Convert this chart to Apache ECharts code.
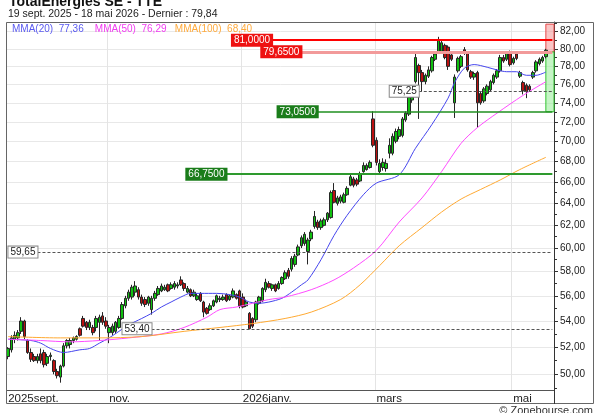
<!DOCTYPE html>
<html lang="fr">
<head>
<meta charset="utf-8">
<title>TotalEnergies SE - TTE</title>
<script src="https://cdn.jsdelivr.net/npm/echarts@6/dist/echarts.min.js"></script>
<style>
  html, body { margin: 0; padding: 0; background: #fff; }
  #grafico { width: 600px; height: 413px; }
</style>
</head>
<body>
<div id="grafico"></div>
<script>
// Cours journaliers (sept. 2025 -> mai 2026)
const ouverture = [
  51.3, 51.8, 52.6, 52.7, 53.2, 54.0, 52.5, 51.6,
  51.3, 51.0, 51.5, 51.6, 50.8, 51.3, 51.0, 50.2, 49.8, 50.6, 52.1, 52.2, 52.5, 52.6, 53.4, 54.2, 53.9, 53.5, 53.5, 53.5, 53.9, 54.4, 54.0,
  53.1, 53.1, 53.2, 53.5, 54.2, 55.2, 55.8, 55.9, 56.3, 56.5, 55.9, 55.7, 55.4, 54.9, 55.8, 56.1, 56.4, 56.5, 56.9, 56.6,
  56.7, 56.8, 57.3, 57.0, 56.3, 56.5, 56.0, 55.7, 56.2, 55.5, 55.0, 54.9, 55.2, 55.5, 55.7, 55.7, 56.1, 55.7, 55.9, 56.1, 56.4,
  55.9, 55.2, 54.6, 54.2, 54.1, 55.4, 55.6, 56.5, 57.0, 56.6, 56.9, 56.6, 57.0, 57.4, 58.1, 58.2, 58.6, 59.4, 60.2, 60.4, 59.7,
  60.8, 61.9, 62.3, 61.8, 62.0, 62.5, 62.7, 65.2, 64.0, 64.2, 64.1, 64.8, 65.7, 66.3, 66.2, 66.1, 67.0, 67.2, 67.4, 72.3,
  70.1, 67.0, 67.4, 67.3, 68.8, 68.8, 70.0, 70.5, 70.6, 72.2, 72.8, 74.3, 76.3, 78.1, 77.3, 76.3, 76.9, 77.5, 78.8, 79.6, 79.7, 80.4,
  80.2, 79.3, 74.0, 77.5, 78.0, 79.9, 79.5, 77.4, 76.8, 77.3, 75.0, 74.2, 75.0, 75.4, 76.2, 76.8, 77.5, 79.0, 78.8, 79.6,
  78.4, 79.4, 76.9, 76.2, 75.9, 75.8, 76.8, 77.5, 78.3, 78.6, 79.1
];
const plusHaut = [
  52.0, 52.9, 53.2, 53.3, 54.3, 54.1, 52.6, 51.9,
  51.5, 51.5, 51.9, 51.8, 51.5, 51.6, 51.1, 50.4, 50.7, 52.3, 52.6, 52.7, 52.8, 52.9, 53.5, 54.4, 54.0, 54.1, 53.7, 54.4, 54.5, 54.7, 54.3,
  53.7, 53.8, 54.0, 54.4, 55.5, 56.0, 56.5, 56.9, 57.2, 56.7, 56.1, 55.9, 56.0, 56.0, 56.4, 56.8, 57.0, 56.9, 57.0, 57.1,
  57.2, 57.1, 57.6, 57.1, 56.8, 56.6, 56.5, 56.2, 56.3, 55.6, 55.1, 55.4, 55.7, 56.1, 56.0, 56.1, 56.2, 56.1, 56.6, 56.2, 56.5,
  56.2, 55.7, 54.7, 54.3, 55.6, 56.0, 56.7, 57.4, 57.2, 57.0, 57.0, 57.2, 57.6, 58.1, 58.3, 59.3, 59.5, 60.3, 61.1, 61.4, 60.9,
  61.6, 63.3, 62.5, 62.6, 62.7, 63.2, 65.2, 65.9, 64.7, 64.8, 65.0, 65.6, 66.8, 66.5, 66.4, 67.0, 67.9, 67.8, 68.1, 73.1,
  70.4, 68.2, 68.3, 68.2, 70.3, 70.8, 71.3, 71.5, 72.5, 73.1, 74.8, 75.2, 79.6, 78.3, 77.6, 77.2, 78.0, 79.2, 79.6, 81.4, 81.0, 80.6,
  80.4, 79.6, 77.1, 79.1, 79.3, 80.2, 79.7, 77.6, 77.4, 77.5, 75.2, 75.7, 76.0, 76.5, 77.2, 77.7, 79.3, 79.3, 79.7, 79.8,
  79.1, 79.6, 77.5, 76.4, 76.1, 76.0, 77.5, 78.7, 79.0, 79.2, 80.0
];
const plusBas = [
  51.1, 51.6, 52.3, 52.5, 53.0, 52.6, 51.5, 50.9,
  50.9, 50.8, 50.8, 50.5, 50.6, 51.0, 50.0, 49.7, 49.4, 50.5, 51.9, 51.9, 52.3, 52.5, 52.8, 53.5, 53.3, 53.3, 52.9, 53.2, 52.5, 53.7, 53.4,
  52.3, 52.9, 53.0, 53.4, 54.1, 55.0, 55.6, 55.7, 56.0, 55.7, 55.2, 55.1, 55.2, 54.5, 55.6, 56.0, 56.3, 56.4, 56.3, 56.5,
  56.5, 56.6, 56.8, 56.4, 56.2, 55.9, 55.9, 55.6, 55.5, 54.3, 54.5, 54.8, 55.1, 55.4, 55.5, 55.6, 55.5, 55.6, 55.8, 55.7, 55.0,
  55.0, 55.1, 53.4, 53.45, 53.9, 55.3, 55.5, 56.3, 56.6, 56.4, 56.3, 56.5, 56.9, 57.3, 57.4, 58.0, 58.4, 59.3, 60.0, 60.2, 58.6,
  60.6, 61.7, 61.6, 61.6, 61.9, 62.3, 62.6, 64.0, 63.8, 64.0, 64.0, 64.7, 65.6, 65.5, 65.6, 66.0, 66.9, 67.1, 67.3, 69.4,
  67.6, 66.8, 67.1, 67.0, 68.3, 68.6, 69.8, 70.2, 70.4, 72.0, 72.6, 74.0, 76.1, 72.3, 75.2, 76.0, 76.7, 77.3, 78.6, 79.4, 79.5, 78.8,
  77.6, 78.6, 72.4, 77.3, 77.8, 79.3, 77.4, 76.6, 76.5, 71.4, 73.8, 74.0, 74.8, 75.2, 76.0, 76.6, 77.3, 78.4, 78.6, 78.0,
  78.2, 78.7, 76.7, 74.9, 74.5, 75.2, 76.6, 77.3, 78.1, 78.4, 78.9
];
const cloture = [
  51.9, 52.7, 52.9, 53.1, 54.0, 52.8, 51.6, 51.1,
  51.0, 51.3, 51.0, 50.7, 51.3, 51.4, 50.2, 49.9, 50.6, 52.1, 52.5, 52.5, 52.7, 52.8, 52.9, 53.6, 53.5, 53.9, 53.1, 54.2, 54.3, 53.9, 53.6,
  53.5, 53.6, 53.9, 54.2, 55.3, 55.8, 56.3, 56.7, 56.8, 55.9, 55.4, 55.3, 55.9, 55.8, 56.2, 56.6, 56.8, 56.7, 56.4, 56.9,
  57.0, 56.9, 56.9, 56.6, 56.6, 56.0, 56.3, 56.0, 55.6, 54.7, 54.6, 55.2, 55.6, 56.0, 55.8, 55.9, 55.6, 56.0, 56.4, 55.8, 55.2,
  55.1, 55.5, 53.4, 53.6, 55.5, 55.9, 56.6, 57.1, 56.7, 56.9, 56.4, 57.0, 57.5, 57.9, 57.6, 59.1, 59.3, 60.1, 60.9, 61.2, 60.7,
  61.4, 62.8, 61.8, 62.4, 62.5, 63.1, 65.0, 64.1, 64.5, 64.6, 64.8, 65.4, 66.5, 65.7, 65.8, 66.8, 67.6, 67.6, 67.9, 69.6,
  67.9, 67.8, 67.9, 67.8, 69.6, 70.5, 71.0, 71.2, 72.3, 72.9, 74.6, 74.6, 79.0, 77.3, 76.3, 77.0, 77.6, 79.0, 79.4, 81.0, 80.7, 79.0,
  78.0, 78.8, 76.8, 78.9, 79.1, 79.5, 77.6, 76.8, 77.2, 74.0, 74.0, 75.5, 75.8, 76.3, 77.0, 77.5, 79.0, 78.6, 79.5, 78.2,
  78.9, 78.9, 77.3, 75.3, 75.2, 75.4, 77.3, 78.5, 78.8, 79.0, 79.84
];

// moyennes mobiles (jour de bourse -> valeur)
const mma20Jours = [0, 7, 10, 13, 17, 22, 25, 28, 31, 34, 37, 41, 44, 47, 50, 53, 56, 59, 64, 68, 71, 74, 77, 80, 84, 87, 90, 92, 96, 100, 104, 109, 113, 120, 125, 130, 135, 137, 140, 143, 147, 150, 153, 156, 159, 162, 165];
const mma20Valeurs = [52.6, 52.5, 52.3, 51.9, 51.6, 51.8, 51.9, 52.3, 52.7, 53.2, 53.7, 54.2, 54.6, 55.1, 55.5, 55.9, 56.2, 56.2, 56.2, 56.1, 55.9, 55.5, 55.4, 55.5, 55.8, 56.3, 56.9, 57.3, 59.0, 61.1, 62.9, 64.8, 65.9, 66.7, 69.3, 71.7, 74.5, 76.2, 77.8, 78.2, 77.9, 77.6, 77.4, 77.4, 77.0, 77.0, 77.36];
const mma50Jours = [0, 10, 19, 28, 37, 47, 54, 61, 65, 70, 75, 80, 85, 93, 100, 106, 113, 120, 127, 133, 139, 144, 150, 158, 165];
const mma50Valeurs = [52.6, 52.5, 52.4, 52.5, 52.7, 53.0, 53.5, 54.3, 54.9, 55.1, 55.4, 55.7, 55.9, 56.5, 57.3, 58.3, 59.8, 62.3, 64.5, 67.0, 69.8, 71.4, 72.9, 74.8, 76.29];
const mma100Jours = [0, 16, 28, 41, 54, 65, 75, 85, 93, 102, 108, 114, 120, 127, 133, 139, 145, 151, 157, 165];
const mma100Valeurs = [52.8, 52.7, 52.7, 52.8, 53.2, 53.5, 53.8, 54.2, 54.7, 55.7, 56.9, 58.5, 60.2, 61.8, 63.2, 64.4, 65.3, 66.2, 67.2, 68.40];

// niveaux traces sur le graphique
const niveaux = [81, 79.65, 75.25, 73.05, 66.75, 59.65, 53.40];
const niveauxTexte = ['81,0000', '79,6500', '75,25', '73,0500', '66,7500', '59,65', '53,40'];
const zoneRouge = [79.65, 82.9];
const zoneVerte = [73.05, 79.65];

const graduations = [50, 52, 54, 56, 58, 60, 62, 64, 66, 68, 70, 72, 74, 76, 78, 80, 82];
const graduationsMineures = [49, 51, 53, 55, 57, 59, 61, 63, 65, 67, 69, 71, 73, 75, 77, 79, 81, 83];

const feries = ['2025-12-25', '2025-12-26', '2026-01-01', '2026-04-03', '2026-04-06', '2026-05-01'];
const moisLabels = {
    '2025-09-19': '2025sept.',
    '2025-11-03': 'nov.',
    '2026-01-02': '2026janv.',
    '2026-03-02': 'mars',
    '2026-05-04': 'mai'
};

// apparence des niveaux (debut = jour ou le trait commence, apres l'etiquette)
const apparenceNiveaux = [
    { debut: 81, trait: '#ff0000', largeur: 2, type: 'solid', fond: '#ee1111', bord: '#ee1111', texte: '#fff' },
    { debut: 90, trait: '#f29a9a', largeur: 3, type: 'solid', fond: '#ee1111', bord: '#ee1111', texte: '#fff' },
    { debut: 126, trait: '#555', largeur: 1, type: [3, 2], fond: '#fff', bord: '#888', texte: '#222' },
    { debut: 95, trait: '#1f8f1f', largeur: 1.5, type: 'solid', fond: '#1b7d1b', bord: '#1b7d1b', texte: '#fff' },
    { debut: 67, trait: '#2e9a2e', largeur: 2, type: 'solid', fond: '#1b7d1b', bord: '#1b7d1b', texte: '#fff' },
    { debut: 9, trait: '#555', largeur: 1, type: [3, 2], fond: '#fff', bord: '#888', texte: '#222' },
    { debut: 44, trait: '#555', largeur: 1, type: [3, 2], fond: '#fff', bord: '#888', texte: '#222' }
];

const police = "'Liberation Sans', Arial, sans-serif";
const virgule = (v, d) => v.toFixed(d).replace('.', ',');

function joursDeBourse(debut, fin) {
    const jours = [];
    const d = new Date(debut + 'T12:00:00Z');
    const f = new Date(fin + 'T12:00:00Z');
    while (d <= f) {
        const iso = d.toISOString().slice(0, 10);
        const j = d.getUTCDay();
        if (j !== 0 && j !== 6 && !feries.includes(iso)) jours.push(iso);
        d.setUTCDate(d.getUTCDate() + 1);
    }
    return jours;
}

const dates = joursDeBourse('2025-09-19', '2026-05-18');
// deux jours vides a droite, comme sur l'original
const categories = dates.concat(['vide1', 'vide2']);
const bougies = cloture.map((c, i) => [ouverture[i], c, plusBas[i], plusHaut[i]]);
const paires = (jours, valeurs) => jours.map((j, i) => [j, valeurs[i]]);
const estMois = (index, valeur) => moisLabels[valeur] !== undefined;
const dernierJour = dates.length - 1;
const finAxe = categories.length - 1;

const legende = `{b|MMA(20)}  {b|${virgule(mma20Valeurs.at(-1), 2)}}    {m|MMA(50)}  {m|${virgule(mma50Valeurs.at(-1), 2)}}   {o|MMA(100)}  {o|${virgule(mma100Valeurs.at(-1), 2)}}`;

const lignesNiveaux = niveaux.map((v, i) => {
    const a = apparenceNiveaux[i];
    return [
        {
            coord: [a.debut, v],
            lineStyle: { color: a.trait, width: a.largeur, type: a.type },
            label: {
                show: true,
                position: 'start',
                distance: 0,
                formatter: niveauxTexte[i],
                backgroundColor: a.fond,
                borderColor: a.bord,
                borderWidth: 1,
                color: a.texte,
                padding: [1, 2, 0, 2],
                fontSize: 10,
                fontFamily: police
            }
        },
        { coord: [finAxe, v] }
    ];
});

const chart = echarts.init(document.getElementById('grafico'));

const option = {
    animation: false,
    backgroundColor: '#fff',
    textStyle: { fontFamily: police },
    title: [
        {
            text: 'TotalEnergies SE - TTE', left: 9, top: -5, padding: 0,
            textStyle: { fontFamily: police, fontSize: 14, fontWeight: 'bold', color: '#111' }
        },
        {
            text: '19 sept. 2025 - 18 mai 2026 - Dernier : 79,84', left: 8, top: 9, padding: 0,
            textStyle: { fontFamily: police, fontSize: 10.5, fontWeight: 'normal', color: '#222' }
        },
        {
            text: legende, left: 12, top: 24, padding: 0,
            textStyle: {
                fontFamily: police, fontSize: 10, fontWeight: 'normal',
                rich: {
                    b: { color: '#5a5af0', fontSize: 10, fontFamily: police },
                    m: { color: '#f03cf0', fontSize: 10, fontFamily: police },
                    o: { color: '#ffaa3c', fontSize: 10, fontFamily: police }
                }
            }
        },
        {
            text: '© Zonebourse.com', right: 7, top: 405, padding: 0,
            textStyle: { fontFamily: police, fontSize: 11, fontWeight: 'normal', color: '#333' }
        }
    ],
    grid: { left: 6.5, right: 46, top: 22, bottom: 23 },
    xAxis: {
        type: 'category',
        data: categories,
        boundaryGap: true,
        axisLine: { show: true, lineStyle: { color: '#555' } },
        axisTick: { show: false },
        axisLabel: {
            interval: estMois,
            formatter: v => moisLabels[v] || '',
            align: 'left',
            margin: 3,
            color: '#222',
            fontSize: 11.5,
            fontFamily: police
        },
        splitLine: { show: true, interval: estMois, lineStyle: { color: '#e4e4e4' } }
    },
    yAxis: [
        {
            type: 'log',
            position: 'right',
            min: 48.88,
            max: 83.16,
            axisLine: { show: true, lineStyle: { color: '#333' } },
            axisTick: { show: true, length: 4, customValues: graduations, lineStyle: { color: '#333' } },
            axisLabel: {
                customValues: graduations,
                formatter: v => virgule(v, 2),
                color: '#222',
                fontSize: 10,
                margin: 6,
                fontFamily: police
            },
            splitLine: { show: true, lineStyle: { color: '#e8e8e8' } }
        },
        {
            type: 'log',
            position: 'right',
            min: 48.88,
            max: 83.16,
            axisLine: { show: false },
            axisTick: { show: true, length: 3, customValues: graduationsMineures, lineStyle: { color: '#333' } },
            axisLabel: { show: false },
            splitLine: { show: false }
        }
    ],
    graphic: [
        {
            type: 'rect', silent: true, z: 100,
            shape: { x: 6.5, y: 22.5, width: 587, height: 381 },
            style: { fill: null, stroke: '#666', lineWidth: 1 }
        },
        {
            type: 'line', silent: true, z: 100,
            shape: { x1: 554.5, y1: 390, x2: 554.5, y2: 404 },
            style: { stroke: '#333', lineWidth: 1 }
        }
    ],
    series: [
        {
            name: 'TTE',
            type: 'candlestick',
            data: bougies,
            barWidth: 3,
            itemStyle: {
                color: '#10c010',
                color0: '#bb1111',
                borderColor: '#262626',
                borderColor0: '#262626',
                borderWidth: 1
            },
            markArea: {
                silent: true,
                data: [
                    [
                        { coord: [dernierJour, zoneRouge[0]], itemStyle: { color: 'rgba(244,150,150,0.55)', borderColor: '#e84848', borderWidth: 1 } },
                        { coord: [Infinity, zoneRouge[1]] }
                    ],
                    [
                        { coord: [dernierJour, zoneVerte[0]], itemStyle: { color: 'rgba(150,236,150,0.55)', borderColor: '#33c433', borderWidth: 1 } },
                        { coord: [Infinity, zoneVerte[1]] }
                    ]
                ]
            },
            markLine: {
                silent: true,
                symbol: ['none', 'none'],
                data: lignesNiveaux
            }
        },
        {
            name: 'MMA(20)', type: 'line', data: paires(mma20Jours, mma20Valeurs),
            smooth: 0.3, showSymbol: false, lineStyle: { color: '#4646ee', width: 1 }
        },
        {
            name: 'MMA(50)', type: 'line', data: paires(mma50Jours, mma50Valeurs),
            smooth: 0.3, showSymbol: false, lineStyle: { color: '#ff4cff', width: 1 }
        },
        {
            name: 'MMA(100)', type: 'line', data: paires(mma100Jours, mma100Valeurs),
            smooth: 0.3, showSymbol: false, lineStyle: { color: '#ffaa33', width: 1 }
        }
    ]
};

chart.setOption(option);
</script>
</body>
</html>
